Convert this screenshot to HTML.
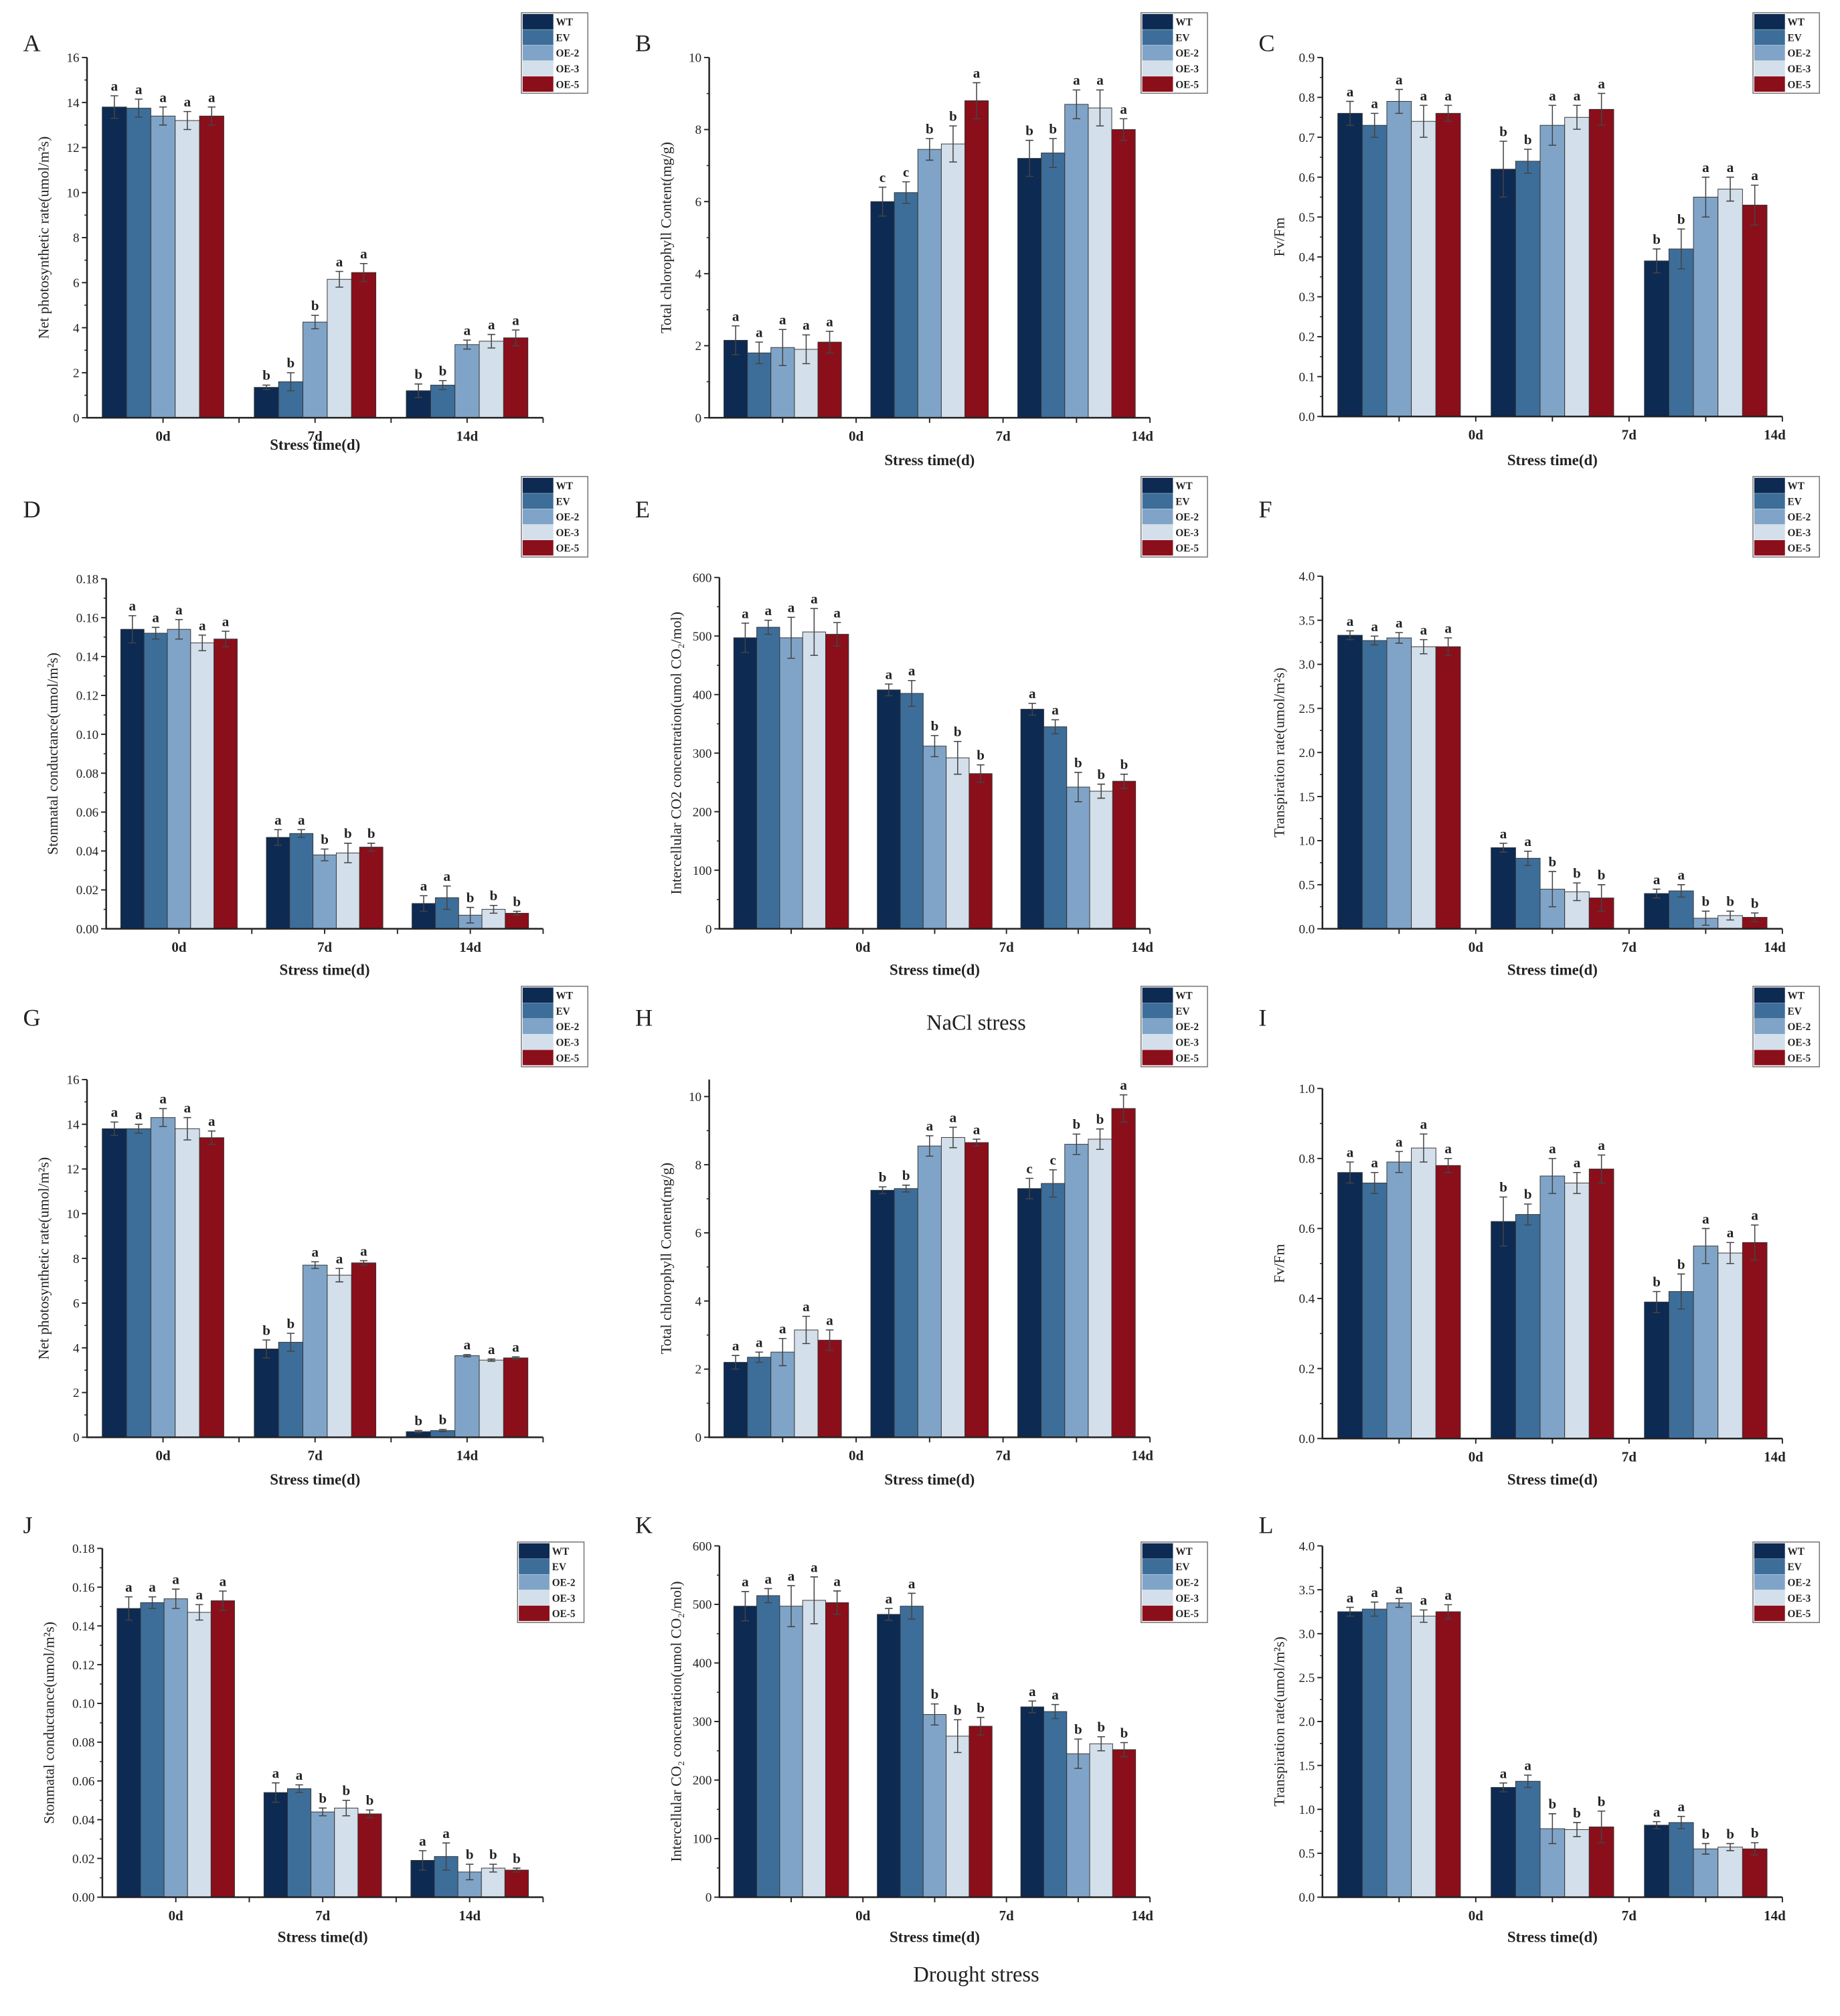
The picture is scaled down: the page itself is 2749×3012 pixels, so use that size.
<!DOCTYPE html>
<html><head><meta charset="utf-8">
<style>
html,body{margin:0;padding:0;background:#fff;}
svg{display:block;}
text{font-family:"Liberation Serif",serif;fill:#222;}
</style></head>
<body>
<svg id="fig" width="2749" height="3012" viewBox="0 0 1440 1578" xmlns="http://www.w3.org/2000/svg"></svg>
<script>
const categories = ["0d","7d","14d"];
const seriesNames = ["WT","EV","OE-2","OE-3","OE-5"];
const seriesColors = ["#0d2a52","#3d6e9a","#80a4c8","#d3dfea","#8a0f1b"];

const valsA = [[13.8,13.75,13.4,13.2,13.4],[1.35,1.6,4.25,6.15,6.45],[1.2,1.45,3.25,3.4,3.55]];
const errsA = [[0.5,0.4,0.4,0.4,0.4],[0.1,0.4,0.3,0.35,0.4],[0.3,0.2,0.2,0.3,0.35]];
const letsA = [["a","a","a","a","a"],["b","b","b","a","a"],["b","b","a","a","a"]];

const valsB = [[2.15,1.8,1.95,1.9,2.1],[6.0,6.25,7.45,7.6,8.8],[7.2,7.35,8.7,8.6,8.0]];
const errsB = [[0.4,0.3,0.5,0.4,0.3],[0.4,0.3,0.3,0.5,0.5],[0.5,0.4,0.4,0.5,0.3]];
const letsB = [["a","a","a","a","a"],["c","c","b","b","a"],["b","b","a","a","a"]];

const valsC = [[0.76,0.73,0.79,0.74,0.76],[0.62,0.64,0.73,0.75,0.77],[0.39,0.42,0.55,0.57,0.53]];
const errsC = [[0.03,0.03,0.03,0.04,0.02],[0.07,0.03,0.05,0.03,0.04],[0.03,0.05,0.05,0.03,0.05]];
const letsC = [["a","a","a","a","a"],["b","b","a","a","a"],["b","b","a","a","a"]];

const valsD = [[0.154,0.152,0.154,0.147,0.149],[0.047,0.049,0.038,0.039,0.042],[0.013,0.016,0.007,0.010,0.008]];
const errsD = [[0.007,0.003,0.005,0.004,0.004],[0.004,0.002,0.003,0.005,0.002],[0.004,0.006,0.004,0.002,0.001]];
const letsD = [["a","a","a","a","a"],["a","a","b","b","b"],["a","a","b","b","b"]];

const valsE = [[497,515,497,507,503],[408,402,312,292,265],[375,345,242,235,252]];
const errsE = [[25,12,35,40,20],[10,22,18,28,15],[10,12,25,12,12]];
const letsE = [["a","a","a","a","a"],["a","a","b","b","b"],["a","a","b","b","b"]];

const valsF = [[3.33,3.27,3.30,3.20,3.20],[0.92,0.80,0.45,0.42,0.35],[0.40,0.43,0.12,0.15,0.13]];
const errsF = [[0.05,0.05,0.06,0.08,0.1],[0.05,0.08,0.2,0.1,0.15],[0.05,0.07,0.08,0.05,0.05]];
const letsF = [["a","a","a","a","a"],["a","a","b","b","b"],["a","a","b","b","b"]];

const valsG = [[13.8,13.8,14.3,13.8,13.4],[3.95,4.25,7.7,7.25,7.8],[0.25,0.3,3.65,3.45,3.55]];
const errsG = [[0.3,0.2,0.4,0.5,0.3],[0.4,0.4,0.15,0.3,0.1],[0.05,0.05,0.05,0.05,0.05]];
const letsG = [["a","a","a","a","a"],["b","b","a","a","a"],["b","b","a","a","a"]];

const valsH = [[2.2,2.35,2.5,3.15,2.85],[7.25,7.3,8.55,8.8,8.65],[7.3,7.45,8.6,8.75,9.65]];
const errsH = [[0.2,0.15,0.4,0.4,0.3],[0.1,0.1,0.3,0.3,0.1],[0.3,0.4,0.3,0.3,0.4]];
const letsH = [["a","a","a","a","a"],["b","b","a","a","a"],["c","c","b","b","a"]];

const valsI = [[0.76,0.73,0.79,0.83,0.78],[0.62,0.64,0.75,0.73,0.77],[0.39,0.42,0.55,0.53,0.56]];
const errsI = [[0.03,0.03,0.03,0.04,0.02],[0.07,0.03,0.05,0.03,0.04],[0.03,0.05,0.05,0.03,0.05]];
const letsI = [["a","a","a","a","a"],["b","b","a","a","a"],["b","b","a","a","a"]];

const valsJ = [[0.149,0.152,0.154,0.147,0.153],[0.054,0.056,0.044,0.046,0.043],[0.019,0.021,0.013,0.015,0.014]];
const errsJ = [[0.006,0.003,0.005,0.004,0.005],[0.005,0.002,0.002,0.004,0.002],[0.005,0.007,0.004,0.002,0.001]];
const letsJ = [["a","a","a","a","a"],["a","a","b","b","b"],["a","a","b","b","b"]];

const valsK = [[497,515,497,507,503],[483,497,312,275,292],[325,317,245,262,252]];
const errsK = [[25,12,35,40,20],[10,22,18,28,15],[10,12,25,12,12]];
const letsK = [["a","a","a","a","a"],["a","a","b","b","b"],["a","a","b","b","b"]];

const valsL = [[3.25,3.28,3.35,3.20,3.25],[1.25,1.32,0.78,0.77,0.80],[0.82,0.85,0.55,0.57,0.55]];
const errsL = [[0.05,0.08,0.05,0.07,0.08],[0.05,0.07,0.17,0.08,0.18],[0.04,0.07,0.06,0.04,0.07]];
const letsL = [["a","a","a","a","a"],["a","a","b","b","b"],["a","a","b","b","b"]];

const NP = "Net photosynthetic rate(umol/m²s)";
const TC = "Total chlorophyll Content(mg/g)";
const SC = "Stonmatal conductance(umol/m²s)";
const TR = "Transpiration rate(umol/m²s)";

const panels = [
 {id:"A",x0:68,x1:425,yT:45,yB:327,ymax:16,step:2,dec:0,cen:true,title:NP,lx:408,ly:10,vals:valsA,errs:errsA,lets:letsA,xt:352},
 {id:"B",x0:555,x1:900,yT:45,yB:327,ymax:10,step:2,dec:0,cen:false,title:TC,lx:893,ly:10,vals:valsB,errs:errsB,lets:letsB,xt:364},
 {id:"C",x0:1035,x1:1395,yT:45,yB:326,ymax:0.9,step:0.1,dec:1,cen:false,title:"Fv/Fm",lx:1372,ly:10,vals:valsC,errs:errsC,lets:letsC,xt:364},
 {id:"D",x0:83,x1:425,yT:453,yB:727,ymax:0.18,step:0.02,dec:2,cen:true,title:SC,lx:408,ly:373,vals:valsD,errs:errsD,lets:letsD,xt:763},
 {id:"E",x0:563,x1:900,yT:452,yB:727,ymax:600,step:100,dec:0,cen:false,title:"Intercellular CO2 concentration(umol CO₂/mol)",lx:893,ly:373,vals:valsE,errs:errsE,lets:letsE,xt:763},
 {id:"F",x0:1035,x1:1395,yT:451,yB:727,ymax:4.0,step:0.5,dec:1,cen:false,title:TR,lx:1372,ly:373,vals:valsF,errs:errsF,lets:letsF,xt:763},
 {id:"G",x0:68,x1:425,yT:845,yB:1125,ymax:16,step:2,dec:0,cen:true,title:NP,lx:408,ly:772,vals:valsG,errs:errsG,lets:letsG,xt:1162},
 {id:"H",x0:555,x1:900,yT:845,yB:1125,ymax:10.5,step:2,dec:0,cen:false,title:TC,lx:893,ly:772,vals:valsH,errs:errsH,lets:letsH,xt:1162},
 {id:"I",x0:1035,x1:1395,yT:852,yB:1126,ymax:1.0,step:0.2,dec:1,cen:false,title:"Fv/Fm",lx:1372,ly:772,vals:valsI,errs:errsI,lets:letsI,xt:1162},
 {id:"J",x0:80,x1:425,yT:1212,yB:1485,ymax:0.18,step:0.02,dec:2,cen:true,title:SC,lx:405,ly:1207,vals:valsJ,errs:errsJ,lets:letsJ,xt:1520},
 {id:"K",x0:563,x1:900,yT:1210,yB:1485,ymax:600,step:100,dec:0,cen:false,title:"Intercellular CO₂ concentration(umol CO₂/mol)",lx:893,ly:1207,vals:valsK,errs:errsK,lets:letsK,xt:1520},
 {id:"L",x0:1035,x1:1395,yT:1210,yB:1485,ymax:4.0,step:0.5,dec:1,cen:false,title:TR,lx:1372,ly:1207,vals:valsL,errs:errsL,lets:letsL,xt:1520}
];
const letterPos = {A:[18,40],B:[497,40],C:[985,40],D:[18,405],E:[497,405],F:[985,405],G:[18,803],H:[497,803],I:[985,803],J:[18,1200],K:[497,1200],L:[985,1200]};

const NS="http://www.w3.org/2000/svg";
const svg=document.getElementById('fig');
function mk(tag,attrs,parent){const e=document.createElementNS(NS,tag);for(const k in attrs)e.setAttribute(k,attrs[k]);(parent||svg).appendChild(e);return e;}

panels.forEach(p=>{
  const g=mk('g',{});
  
  
  const yS=v=>p.yB-(v/p.ymax)*(p.yB-p.yT);
  const W=p.x1-p.x0, gw=W/3, bw=gw*0.8/5;
  const gx=i=>p.x0+(i+0.5)*gw;
  const lt=mk('text',{x:letterPos[p.id][0],y:letterPos[p.id][1],'font-size':19},g);
  lt.textContent=p.id;
  
  
  p.vals.forEach((grp,gi)=>{
    grp.forEach((v,si)=>{
      const x=gx(gi)-2.5*bw+si*bw;
      const r=mk('rect',{x:x,y:yS(v),width:bw,height:p.yB-yS(v),fill:seriesColors[si],stroke:'#333','stroke-width':0.5},g);
      
      
      const e=p.errs[gi][si], cx=x+bw/2;
      const eb=mk('path',{d:`M${cx},${yS(v-e)}V${yS(v+e)}M${cx-3},${yS(v+e)}H${cx+3}M${cx-3},${yS(v-e)}H${cx+3}`,stroke:'#444','stroke-width':0.8,fill:'none'},g);
      
      
      const lb=mk('text',{x:cx,y:yS(v+e)-4,'font-size':11,'font-weight':'bold','text-anchor':'middle'},g);
      lb.textContent=p.lets[gi][si];
      
      
    });
  });
  const ax=mk('path',{d:`M${p.x0},${p.yT}V${p.yB}H${p.x1}`,stroke:'#222','stroke-width':1.3,fill:'none'},g);
  
  
  const n=Math.round(p.ymax/p.step+1e-9);
  for(let i=0;i<=n;i++){
    const v=i*p.step,y=yS(v);
    mk('line',{x1:p.x0-4,x2:p.x0,y1:y,y2:y,stroke:'#222','stroke-width':1},g);
    if(i<n){const ym=yS(v+p.step/2);mk('line',{x1:p.x0-2,x2:p.x0,y1:ym,y2:ym,stroke:'#222','stroke-width':0.8},g);}
    const t=mk('text',{x:p.x0-6,y:y+3.5,'font-size':10,'text-anchor':'end'},g);
    t.textContent=v.toFixed(p.dec);
    
    
  }
  for(let k=1;k<=6;k++){const x=p.x0+k*W/6;mk('line',{x1:x,x2:x,y1:p.yB,y2:p.yB+4,stroke:'#222','stroke-width':1},g);}
  categories.forEach((c,i)=>{
    const x=p.cen?gx(i):p.x0+(i+1)*gw-(i==2?6:0);
    const t=mk('text',{x:x,y:p.yB+18,'font-size':11,'font-weight':'bold','text-anchor':'middle'},g);
    t.textContent=c;
    
    
  });
  const xt=mk('text',{x:(p.x0+p.x1)/2,y:p.xt,'font-size':12,'font-weight':'bold','text-anchor':'middle'},g);
  xt.textContent="Stress time(d)";
  
  
  const yx=p.x0-(p.dec==2?38:30), yy=(p.yT+p.yB)/2;
  const yt=mk('text',{x:yx,y:yy,'font-size':11.5,'text-anchor':'middle',transform:`rotate(-90 ${yx} ${yy})`},g);
  yt.textContent=p.title;
  
  
  const lg=mk('g',{},g);
  
  
  mk('rect',{x:p.lx,y:p.ly,width:52,height:63,fill:'#fff',stroke:'#777','stroke-width':0.8},lg);
  seriesNames.forEach((s,i)=>{
    const sw=mk('rect',{x:p.lx+1,y:p.ly+1+i*12.2,width:24,height:12,fill:seriesColors[i]},lg);
    
    
    const t=mk('text',{x:p.lx+27,y:p.ly+10+i*12.2,'font-size':8,'font-weight':'bold'},lg);
    t.textContent=s;
    
    
  });
});
const n1=mk('text',{x:764,y:806,'font-size':17,'text-anchor':'middle'});
n1.textContent="NaCl stress";


const n2=mk('text',{x:764,y:1551,'font-size':17,'text-anchor':'middle'});
n2.textContent="Drought stress";


</script>
</body></html>
